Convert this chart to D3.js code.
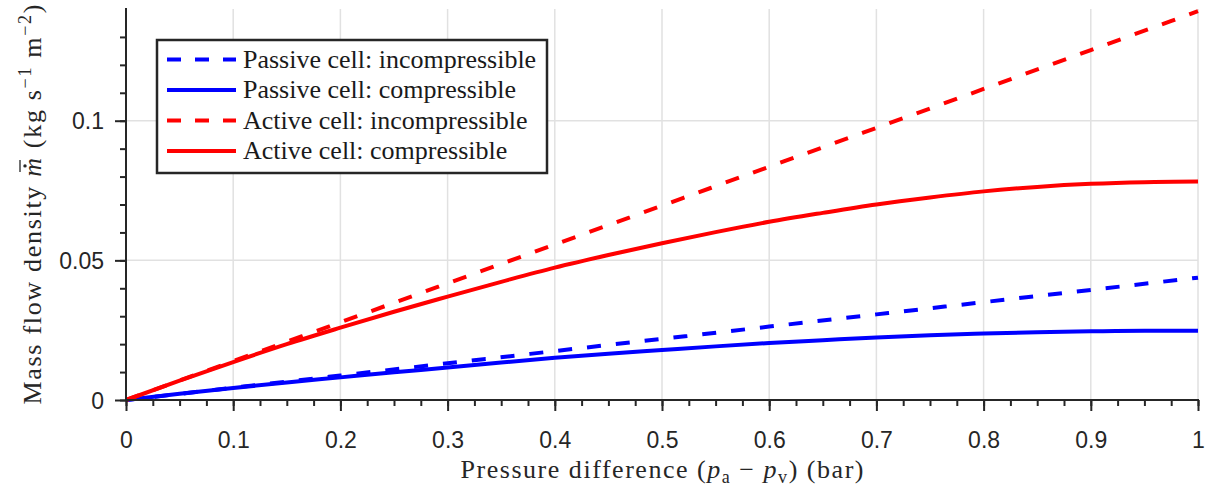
<!DOCTYPE html>
<html>
<head>
<meta charset="utf-8">
<script src="https://cdn.jsdelivr.net/npm/d3@7"></script>
<style>
  body { margin: 0; background: #fff; }
</style>
</head>
<body>
<div id="chart"></div>
<script>
const width = 1213;
const height = 492;
const margin = {top: 9, right: 15, bottom: 92, left: 126};

// pressure difference (bar) for the compressible curves
const pressure = [0, 0.05, 0.1, 0.15, 0.2, 0.25, 0.3, 0.35, 0.4, 0.45, 0.5,
                  0.55, 0.6, 0.65, 0.7, 0.75, 0.8, 0.85, 0.9, 0.95, 1.0];
const passiveCompressible = [0, 0.0022, 0.0043, 0.0063, 0.0081, 0.0099, 0.0116, 0.0134, 0.0151, 0.0166, 0.0179,
                             0.0192, 0.0204, 0.0214, 0.0224, 0.0232, 0.0238, 0.0243, 0.0246, 0.0248, 0.0248];
const activeCompressible = [0, 0.0069, 0.0136, 0.0200, 0.0259, 0.0316, 0.0370, 0.0423, 0.0474, 0.0519, 0.0561,
                            0.0601, 0.0638, 0.0670, 0.0700, 0.0725, 0.0747, 0.0763, 0.0774, 0.0780, 0.0782];
// incompressible curves are straight lines
const pressureLin = [0, 0.1, 0.2, 0.3, 0.4, 0.5, 0.6, 0.7, 0.8, 0.9, 1.0];
const passiveIncompressible = [0, 0.00438, 0.00876, 0.01314, 0.01752, 0.0219, 0.02628, 0.03066, 0.03504, 0.03942, 0.0438];
const activeIncompressible = [0, 0.01392, 0.02784, 0.04176, 0.05568, 0.0696, 0.08352, 0.09744, 0.11136, 0.12528, 0.1392];

const xTicks = [0, 0.1, 0.2, 0.3, 0.4, 0.5, 0.6, 0.7, 0.8, 0.9, 1];
const xTickLabels = ["0", "0.1", "0.2", "0.3", "0.4", "0.5", "0.6", "0.7", "0.8", "0.9", "1"];
const xMinorTicks = d3.range(0, 41).map(i => i / 40);
const yTicks = [0, 0.05, 0.1];
const yTickLabels = ["0", "0.05", "0.1"];
const yMinorTicks = d3.range(0, 14).map(i => i / 100);

const series = [
  {name: "Passive cell: incompressible", x: pressureLin, y: passiveIncompressible, color: "#0000ff", dash: "14 15"},
  {name: "Passive cell: compressible", x: pressure, y: passiveCompressible, color: "#0000ff", dash: null},
  {name: "Active cell: incompressible", x: pressureLin, y: activeIncompressible, color: "#ff0000", dash: "14 15"},
  {name: "Active cell: compressible", x: pressure, y: activeCompressible, color: "#ff0000", dash: null}
];

const axisCol = "#262626";
const gridCol = "#e1e1e1";
const serif = "'Liberation Serif', 'Times New Roman', serif";
const sans = "'Liberation Sans', Arial, sans-serif";
const tickFont = "23px";
const titleFont = "26px";

const svg = d3.select("#chart").append("svg")
  .attr("width", width)
  .attr("height", height)
  .style("background", "#fff");

const xScale = d3.scaleLinear().domain([0, 1]).range([margin.left, width - margin.right]);
const yScale = d3.scaleLinear().domain([0, 0.14]).range([height - margin.bottom, margin.top]);

// grid
svg.append("g").selectAll("line")
  .data(xTicks.slice(1))
  .join("line")
  .attr("x1", d => xScale(d)).attr("x2", d => xScale(d))
  .attr("y1", yScale(0)).attr("y2", yScale(0.14))
  .attr("stroke", gridCol).attr("stroke-width", 1.5);
svg.append("g").selectAll("line")
  .data(yTicks.slice(1))
  .join("line")
  .attr("x1", xScale(0)).attr("x2", xScale(1))
  .attr("y1", d => yScale(d)).attr("y2", d => yScale(d))
  .attr("stroke", gridCol).attr("stroke-width", 1.5);

// curves
const line = d3.line().curve(d3.curveMonotoneX);
svg.append("g").selectAll("path")
  .data(series)
  .join("path")
  .attr("d", s => line(s.x.map((v, i) => [xScale(v), yScale(s.y[i])])))
  .attr("fill", "none")
  .attr("stroke", s => s.color)
  .attr("stroke-width", 4)
  .attr("stroke-dasharray", s => s.dash);

// x axis
const xAxisG = svg.append("g").attr("transform", `translate(0, ${yScale(0)})`);
xAxisG.call(d3.axisBottom(xScale).tickValues(xMinorTicks).tickSize(6).tickFormat(""))
  .call(g => g.select(".domain").remove());
xAxisG.append("g").call(d3.axisBottom(xScale).tickValues(xTicks).tickSize(11).tickSizeOuter(0)
    .tickFormat((d, i) => xTickLabels[i]))
  .call(g => g.select(".domain").remove())
  .call(g => g.selectAll("text").attr("dy", 0).attr("y", 48)
    .style("font-family", sans).style("font-size", tickFont).attr("fill", axisCol));
xAxisG.selectAll(".tick line").attr("stroke", axisCol).attr("stroke-width", 2);
xAxisG.append("line").attr("x1", xScale(0) - 1).attr("x2", xScale(1) + 1)
  .attr("stroke", axisCol).attr("stroke-width", 2);

// y axis
const yAxisG = svg.append("g").attr("transform", `translate(${xScale(0)}, 0)`);
yAxisG.call(d3.axisLeft(yScale).tickValues(yMinorTicks).tickSize(6).tickFormat(""))
  .call(g => g.select(".domain").remove());
yAxisG.append("g").call(d3.axisLeft(yScale).tickValues(yTicks).tickSize(11).tickSizeOuter(0)
    .tickFormat((d, i) => yTickLabels[i]))
  .call(g => g.select(".domain").remove())
  .call(g => g.selectAll("text").attr("x", -22).attr("dy", "0.36em")
    .style("font-family", sans).style("font-size", tickFont).attr("fill", axisCol));
yAxisG.selectAll(".tick line").attr("stroke", axisCol).attr("stroke-width", 2);
yAxisG.append("line").attr("y1", yScale(0) + 1).attr("y2", yScale(0.14) - 1)
  .attr("stroke", axisCol).attr("stroke-width", 2);

// x axis title
const xTitle = svg.append("text")
  .attr("x", (xScale(0) + xScale(1)) / 2)
  .attr("y", 478)
  .attr("text-anchor", "middle")
  .attr("textLength", 403)
  .attr("lengthAdjust", "spacing")
  .style("font-family", serif).style("font-size", titleFont).attr("fill", axisCol);
xTitle.append("tspan").text("Pressure difference (");
xTitle.append("tspan").style("font-style", "italic").text("p");
xTitle.append("tspan").attr("dy", 5).style("font-size", "18px").text("a");
xTitle.append("tspan").attr("dy", -5).text(" \u2212 ");
xTitle.append("tspan").style("font-style", "italic").text("p");
xTitle.append("tspan").attr("dy", 5).style("font-size", "18px").text("v");
xTitle.append("tspan").attr("dy", -5).text(") (bar)");

// y axis title
const yTitleG = svg.append("g")
  .attr("transform", `translate(41, ${(yScale(0) + yScale(0.14)) / 2}) rotate(-90)`);
const yTitle = yTitleG.append("text")
  .attr("text-anchor", "middle")
  .attr("textLength", 400)
  .attr("lengthAdjust", "spacing")
  .style("font-family", serif).style("font-size", titleFont).attr("fill", axisCol);
yTitle.append("tspan").text("Mass flow density ");
yTitle.append("tspan").style("font-style", "italic").text("m");
yTitle.append("tspan").text(" (kg s");
yTitle.append("tspan").attr("dy", -10).style("font-size", "18px").text("\u22121");
yTitle.append("tspan").attr("dy", 10).text(" m");
yTitle.append("tspan").attr("dy", -10).style("font-size", "18px").text("\u22122");
yTitle.append("tspan").attr("dy", 10).text(")");
// dot and bar over the italic m
const mBox = yTitle.node().getExtentOfChar(18);
const mCx = mBox.x + mBox.width / 2 + 1.5;
yTitleG.append("circle").attr("cx", mCx).attr("cy", -16).attr("r", 1.7).attr("fill", axisCol);
yTitleG.append("line").attr("x1", mCx - 6).attr("x2", mCx + 6)
  .attr("y1", -21).attr("y2", -21).attr("stroke", axisCol).attr("stroke-width", 1.3);

// legend
const legend = svg.append("g");
legend.append("rect")
  .attr("x", 157).attr("y", 40).attr("width", 390).attr("height", 133)
  .attr("fill", "#fff").attr("stroke", axisCol).attr("stroke-width", 2.5);
const rows = legend.selectAll("g.row")
  .data(series)
  .join("g")
  .attr("class", "row")
  .attr("transform", (d, i) => `translate(167, ${59.5 + i * 30.5})`);
rows.append("line")
  .attr("x1", 0).attr("x2", 69)
  .attr("stroke", d => d.color).attr("stroke-width", 4)
  .attr("stroke-dasharray", d => d.dash ? "14 14" : null);
rows.append("text")
  .attr("x", 76).attr("y", 8)
  .style("font-family", serif).style("font-size", titleFont).attr("fill", "#1a1a1a")
  .text(d => d.name);
</script>
</body>
</html>
